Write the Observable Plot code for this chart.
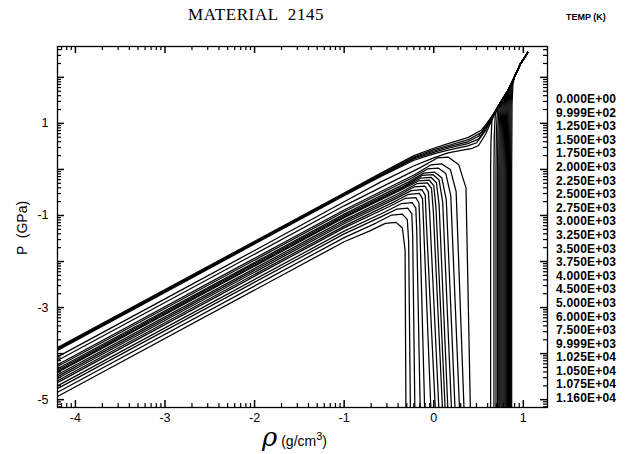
<!DOCTYPE html>
<html><head><meta charset="utf-8">
<script src="https://cdn.jsdelivr.net/npm/d3@7"></script>
<script src="https://cdn.jsdelivr.net/npm/@observablehq/plot@0.6"></script>
<style>
body{margin:0;background:#fff;}
#wrap{position:relative;width:631px;height:454px;overflow:hidden;background:#fff;font-family:"Liberation Sans",Arial,sans-serif;color:#000;}
#wrap svg{position:absolute;left:0;top:0;}
#title{position:absolute;left:188px;top:5px;font-family:"Liberation Serif",serif;font-size:17px;letter-spacing:0.6px;white-space:pre;}
#tempHead{position:absolute;left:566px;top:12px;font-size:9px;font-weight:bold;white-space:pre;}
#legend{position:absolute;left:556px;top:93px;font-size:12px;font-weight:bold;letter-spacing:0.2px;line-height:13.6px;white-space:pre;}
#ylab{position:absolute;left:22px;top:228px;transform:translate(-50%,-50%) rotate(-90deg);font-size:14px;white-space:pre;}
#xlab{position:absolute;left:262px;top:422px;white-space:pre;}
#xlab .rho{font-family:"DejaVu Serif",serif;font-style:italic;font-size:26px;}
#xlab .unit{font-size:14px;}
</style></head><body><div id="wrap">
<div id="title">MATERIAL  2145</div>
<div id="tempHead">TEMP (K)</div>
<div id="legend"></div>
<div id="ylab">P  (GPa)</div>
<div id="xlab"><span class="rho">ρ</span><span class="unit"> (g/cm<sup style="font-size:11px">3</sup>)</span></div>
</div>
<script>
// Temperature labels (legend)
const tempLabels = ["0.000E+00","9.999E+02","1.250E+03","1.500E+03","1.750E+03","2.000E+03","2.250E+03","2.500E+03","2.750E+03","3.000E+03","3.250E+03","3.500E+03","3.750E+03","4.000E+03","4.500E+03","5.000E+03","6.000E+03","7.500E+03","9.999E+03","1.025E+04","1.050E+04","1.075E+04","1.160E+04"];

// Axis ticks (log10 units)
const xMajor = [-4,-3,-2,-1,0,1];
const yMajor = [-5,-4,-3,-2,-1,0,1,2];
const xLabels = [-4,-3,-2,-1,0,1];
const yLabels = [1,-1,-3,-5];
const xDomain = [-4.2, 1.27];
const yDomain = [-5.17, 2.67];

// Isotherms: [log10 rho, log10 P]
// gas / two-phase branches (subcritical)
const gas_0999 = [[-4.2,-4.93],[-1,-1.57],[-0.72,-1.34],[-0.54,-1.17],[-0.42,-1.15],[-0.35,-1.27],[-0.32,-1.75],[-0.31,-5.3]];
const gas_1250 = [[-4.2,-4.84],[-1,-1.48],[-0.65,-1.17],[-0.47,-0.99],[-0.35,-0.97],[-0.295,-1.09],[-0.28,-1.57],[-0.26,-5.3]];
const gas_1500 = [[-4.2,-4.76],[-1,-1.40],[-0.59,-1.03],[-0.41,-0.86],[-0.29,-0.84],[-0.245,-0.96],[-0.235,-1.44],[-0.21,-5.3]];
const gas_1750 = [[-4.2,-4.70],[-1,-1.34],[-0.54,-0.92],[-0.36,-0.74],[-0.24,-0.72],[-0.20,-0.84],[-0.19,-1.32],[-0.15,-5.3]];
const gas_2000 = [[-4.2,-4.63],[-1,-1.27],[-0.50,-0.81],[-0.32,-0.63],[-0.20,-0.61],[-0.165,-0.73],[-0.155,-1.21],[-0.10,-5.3]];
const gas_2250 = [[-4.2,-4.59],[-1,-1.23],[-0.46,-0.72],[-0.28,-0.54],[-0.16,-0.52],[-0.125,-0.64],[-0.115,-1.12],[-0.03,-5.3]];
const gas_2500 = [[-4.2,-4.54],[-1,-1.18],[-0.43,-0.64],[-0.25,-0.46],[-0.13,-0.44],[-0.095,-0.56],[-0.085,-1.04],[0.02,-5.3]];
const gas_2750 = [[-4.2,-4.50],[-1,-1.14],[-0.40,-0.57],[-0.22,-0.38],[-0.10,-0.36],[-0.06,-0.48],[-0.045,-0.96],[0.06,-5.3]];
const gas_3000 = [[-4.2,-4.46],[-1,-1.10],[-0.37,-0.50],[-0.19,-0.31],[-0.07,-0.29],[-0.025,-0.41],[-0.005,-0.89],[0.10,-5.3]];
const gas_3250 = [[-4.2,-4.41],[-1,-1.05],[-0.35,-0.43],[-0.17,-0.25],[-0.05,-0.23],[0.0,-0.35],[0.025,-0.83],[0.13,-5.3]];
const gas_3500 = [[-4.2,-4.39],[-1,-1.03],[-0.33,-0.39],[-0.15,-0.19],[-0.03,-0.17],[0.03,-0.29],[0.06,-0.77],[0.16,-5.3]];
const gas_3750 = [[-4.2,-4.36],[-1,-1.00],[-0.31,-0.34],[-0.13,-0.13],[-0.01,-0.11],[0.06,-0.23],[0.10,-0.71],[0.20,-5.3]];
const gas_4000 = [[-4.2,-4.33],[-1,-0.97],[-0.29,-0.28],[-0.11,-0.08],[0.01,-0.06],[0.09,-0.18],[0.14,-0.66],[0.24,-5.3]];
const gas_4500 = [[-4.2,-4.28],[-1,-0.92],[-0.25,-0.19],[-0.07,0.01],[0.05,0.03],[0.135,-0.09],[0.19,-0.57],[0.29,-5.3]];
const gas_5000 = [[-4.2,-4.24],[-1,-0.88],[-0.21,-0.11],[-0.03,0.10],[0.09,0.12],[0.185,0.0],[0.25,-0.48],[0.34,-5.3]];
const gas_6000 = [[-4.2,-4.15],[-1,-0.79],[-0.14,0.05],[0.04,0.25],[0.16,0.27],[0.28,0.10],[0.36,-0.40],[0.41,-5.3]];

// liquid branches
const liq_0000 = [[0.87,-5.3],[0.87,0],[0.874,1.42],[0.885,1.87],[0.905,2.02],[0.97,2.30],[1.05,2.54]];
const liq_0999 = [[0.858,-5.3],[0.858,0],[0.862,1.37],[0.873,1.82],[0.893,1.97],[0.97,2.30],[1.05,2.54]];
const liq_1250 = [[0.846,-5.3],[0.846,0],[0.85,1.32],[0.861,1.77],[0.881,1.92],[0.90,2.0],[0.97,2.30],[1.05,2.54]];
const liq_1500 = [[0.834,-5.3],[0.834,0],[0.838,1.28],[0.849,1.73],[0.869,1.88],[0.90,2.0],[0.97,2.30],[1.05,2.54]];
const liq_1750 = [[0.822,-5.3],[0.822,0],[0.826,1.23],[0.837,1.68],[0.857,1.83],[0.90,2.0],[0.97,2.30],[1.05,2.54]];
const liq_2000 = [[0.81,-5.3],[0.81,0],[0.814,1.18],[0.825,1.63],[0.845,1.78],[0.90,2.0],[0.97,2.30],[1.05,2.54]];
const liq_2250 = [[0.798,-5.3],[0.798,0],[0.802,1.13],[0.813,1.58],[0.833,1.73],[0.90,2.0],[0.97,2.30],[1.05,2.54]];
const liq_2500 = [[0.786,-5.3],[0.786,0],[0.79,1.09],[0.801,1.54],[0.821,1.69],[0.90,2.0],[0.97,2.30],[1.05,2.54]];
const liq_2750 = [[0.774,-5.3],[0.774,0],[0.778,1.05],[0.789,1.50],[0.809,1.65],[0.83,1.72],[0.90,2.0],[0.97,2.30],[1.05,2.54]];
const liq_3000 = [[0.762,-5.3],[0.762,0],[0.766,1.02],[0.777,1.47],[0.797,1.62],[0.83,1.72],[0.90,2.0],[0.97,2.30],[1.05,2.54]];
const liq_3250 = [[0.75,-5.3],[0.75,0],[0.754,0.98],[0.765,1.43],[0.785,1.58],[0.83,1.72],[0.90,2.0],[0.97,2.30],[1.05,2.54]];
const liq_3500 = [[0.738,-5.3],[0.738,0],[0.742,0.94],[0.753,1.39],[0.773,1.54],[0.83,1.72],[0.90,2.0],[0.97,2.30],[1.05,2.54]];
const liq_3750 = [[0.726,-5.3],[0.726,0],[0.73,0.90],[0.741,1.35],[0.761,1.50],[0.83,1.72],[0.90,2.0],[0.97,2.30],[1.05,2.54]];
const liq_4000 = [[0.712,-5.3],[0.712,0],[0.716,0.86],[0.727,1.31],[0.747,1.46],[0.83,1.72],[0.90,2.0],[0.97,2.30],[1.05,2.54]];
const liq_4500 = [[0.695,-5.3],[0.695,0],[0.699,0.81],[0.71,1.26],[0.73,1.41],[0.75,1.47],[0.83,1.72],[0.90,2.0],[0.97,2.30],[1.05,2.54]];
const liq_5000 = [[0.672,-5.3],[0.672,0],[0.676,0.74],[0.687,1.19],[0.707,1.34],[0.75,1.47],[0.83,1.72],[0.90,2.0],[0.97,2.30],[1.05,2.54]];
const liq_6000 = [[0.635,-5.3],[0.635,0],[0.639,0.62],[0.65,1.07],[0.67,1.22],[0.75,1.47],[0.83,1.72],[0.90,2.0],[0.97,2.30],[1.05,2.54]];

// supercritical isotherms
const sup_7500 = [[-4.2,-4.07],[-3,-2.81],[-2,-1.76],[-1,-0.70],[-0.59,-0.27],[-0.22,0.08],[0.0,0.25],[0.16,0.36],[0.32,0.42],[0.42,0.45],[0.50,0.52],[0.58,0.77],[0.65,1.08],[0.71,1.33],[0.75,1.47],[0.83,1.72],[0.90,2.0],[0.97,2.30],[1.05,2.54]];
const sup_9999 = [[-4.2,-3.93],[-3,-2.67],[-2,-1.62],[-1,-0.57],[-0.59,-0.15],[-0.22,0.20],[0.0,0.34],[0.16,0.42],[0.38,0.51],[0.48,0.58],[0.58,0.85],[0.66,1.15],[0.72,1.37],[0.75,1.47],[0.83,1.72],[0.90,2.0],[0.97,2.30],[1.05,2.54]];
const sup_10250 = [[-4.2,-3.91],[-3,-2.65],[-2,-1.60],[-1,-0.55],[-0.59,-0.13],[-0.22,0.23],[0.0,0.37],[0.16,0.46],[0.38,0.56],[0.50,0.66],[0.60,0.94],[0.67,1.19],[0.75,1.47],[0.83,1.72],[0.90,2.0],[0.97,2.30],[1.05,2.54]];
const sup_10500 = [[-4.2,-3.90],[-3,-2.64],[-2,-1.59],[-1,-0.54],[-0.59,-0.12],[-0.22,0.25],[0.0,0.40],[0.16,0.49],[0.38,0.60],[0.50,0.72],[0.60,0.97],[0.67,1.20],[0.75,1.47],[0.83,1.72],[0.90,2.0],[0.97,2.30],[1.05,2.54]];
const sup_10750 = [[-4.2,-3.89],[-3,-2.63],[-2,-1.58],[-1,-0.53],[-0.59,-0.10],[-0.22,0.27],[0.0,0.43],[0.16,0.52],[0.38,0.64],[0.53,0.80],[0.60,0.99],[0.67,1.21],[0.75,1.47],[0.83,1.72],[0.90,2.0],[0.97,2.30],[1.05,2.54]];
const sup_11600 = [[-4.2,-3.87],[-3,-2.61],[-2,-1.56],[-1,-0.51],[-0.59,-0.08],[-0.22,0.30],[0.0,0.46],[0.16,0.56],[0.38,0.69],[0.53,0.85],[0.60,1.02],[0.67,1.22],[0.75,1.47],[0.83,1.72],[0.90,2.0],[0.97,2.30],[1.05,2.54]];

const branches = [
  ["liq 0", liq_0000],
  ["gas 999.9", gas_0999], ["liq 999.9", liq_0999],
  ["gas 1250", gas_1250], ["liq 1250", liq_1250],
  ["gas 1500", gas_1500], ["liq 1500", liq_1500],
  ["gas 1750", gas_1750], ["liq 1750", liq_1750],
  ["gas 2000", gas_2000], ["liq 2000", liq_2000],
  ["gas 2250", gas_2250], ["liq 2250", liq_2250],
  ["gas 2500", gas_2500], ["liq 2500", liq_2500],
  ["gas 2750", gas_2750], ["liq 2750", liq_2750],
  ["gas 3000", gas_3000], ["liq 3000", liq_3000],
  ["gas 3250", gas_3250], ["liq 3250", liq_3250],
  ["gas 3500", gas_3500], ["liq 3500", liq_3500],
  ["gas 3750", gas_3750], ["liq 3750", liq_3750],
  ["gas 4000", gas_4000], ["liq 4000", liq_4000],
  ["gas 4500", gas_4500], ["liq 4500", liq_4500],
  ["gas 5000", gas_5000], ["liq 5000", liq_5000],
  ["gas 6000", gas_6000], ["liq 6000", liq_6000],
  ["7500", sup_7500], ["9999", sup_9999], ["10250", sup_10250],
  ["10500", sup_10500], ["10750", sup_10750], ["11600", sup_11600]
];
const rows = branches.flatMap(([id, pts]) => pts.map(([x, y]) => ({id, x, y})));

// log-minor tick positions within each decade
const logMinor = (dom) => {
  const out = [];
  for (let n = Math.floor(dom[0]); n <= Math.ceil(dom[1]); n++)
    for (let k = 2; k <= 9; k++) { const v = n + Math.log10(k); if (v > dom[0] && v < dom[1]) out.push(v); }
  return out;
};
const xMinor = logMinor(xDomain);
const yMinor = logMinor(yDomain);

const W = 631, H = 454, mT = 46, mB = 47, mL = 57, mR = 84;
const iW = W - mL - mR, iH = H - mT - mB;
const minorLen = 4, majorLen = 7;

const plot = Plot.plot({
  width: W, height: H,
  marginTop: mT, marginBottom: mB, marginLeft: mL, marginRight: mR,
  style: {fontFamily: "'Liberation Sans', Arial, sans-serif", fontSize: "12.5px", background: "transparent", color: "black"},
  x: {domain: xDomain},
  y: {domain: yDomain},
  marks: [
    Plot.line(rows, {x: "x", y: "y", z: "id", stroke: "black", strokeWidth: 1.25, clip: true}),
    // inward ticks on all four sides
    Plot.tickX(xMinor, {x: d => d, stroke: "black", strokeWidth: 1.2, insetTop: iH - minorLen}),
    Plot.tickX(xMinor, {x: d => d, stroke: "black", strokeWidth: 1.2, insetBottom: iH - minorLen}),
    Plot.tickX(xMajor, {x: d => d, stroke: "black", strokeWidth: 1.5, insetTop: iH - majorLen}),
    Plot.tickX(xMajor, {x: d => d, stroke: "black", strokeWidth: 1.5, insetBottom: iH - majorLen}),
    Plot.tickY(yMinor, {y: d => d, stroke: "black", strokeWidth: 1.2, insetRight: iW - minorLen}),
    Plot.tickY(yMinor, {y: d => d, stroke: "black", strokeWidth: 1.2, insetLeft: iW - minorLen}),
    Plot.tickY(yMajor, {y: d => d, stroke: "black", strokeWidth: 1.5, insetRight: iW - majorLen}),
    Plot.tickY(yMajor, {y: d => d, stroke: "black", strokeWidth: 1.5, insetLeft: iW - majorLen}),
    Plot.axisX({ticks: xLabels, tickSize: 0, tickPadding: 6, tickFormat: d => String(d), label: null}),
    Plot.axisY({ticks: yLabels, tickSize: 0, tickPadding: 9, tickFormat: d => String(d), label: null}),
    Plot.frame({stroke: "black", strokeWidth: 1.3})
  ]
});
const wrap = document.getElementById("wrap");
wrap.insertBefore(plot, wrap.firstChild);
document.getElementById("legend").textContent = tempLabels.join("\n");
</script>
</body></html>
